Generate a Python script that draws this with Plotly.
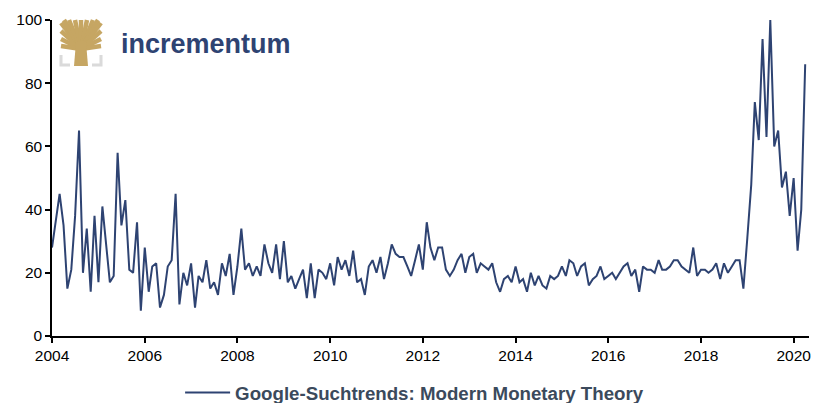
import pandas as pd
import plotly.graph_objects as go

# Monthly Google search interest, Jan 2004 - Apr 2020 (index, max = 100)
start_month = "2004-01-01"
interest = [
    28, 36, 45, 35, 15, 21, 38, 65, 20, 34, 14, 38,   # 2004
    17, 41, 29, 17, 19, 58, 35, 43, 21, 20, 36, 8,    # 2005
    28, 14, 22, 23, 9, 13, 22, 24, 45, 10, 20, 16,    # 2006
    23, 9, 19, 17, 24, 15, 17, 13, 23, 19, 26, 13,    # 2007
    22, 34, 21, 23, 19, 22, 19, 29, 23, 20, 29, 18,   # 2008
    30, 17, 19, 15, 18, 21, 12, 23, 12, 21, 20, 18,   # 2009
    23, 16, 25, 21, 24, 19, 27, 17, 18, 13, 22, 24,   # 2010
    20, 25, 18, 23, 29, 26, 25, 25, 22, 19, 24, 29,   # 2011
    21, 36, 28, 24, 28, 28, 21, 19, 21, 24, 26, 20,   # 2012
    25, 26, 20, 23, 22, 21, 23, 17, 14, 18, 19, 17,   # 2013
    22, 17, 18, 14, 20, 16, 19, 16, 15, 19, 18, 19,   # 2014
    22, 19, 24, 23, 19, 22, 23, 16, 18, 19, 22, 18,   # 2015
    19, 20, 18, 20, 22, 23, 19, 21, 14, 22, 21, 21,   # 2016
    20, 24, 21, 21, 22, 24, 24, 22, 21, 20, 28, 19,   # 2017
    21, 21, 20, 21, 23, 18, 23, 20, 22, 24, 24, 15,   # 2018
    31, 48, 74, 62, 94, 63, 100, 60, 65, 47, 52, 38,  # 2019
    50, 27, 40, 86,                                   # 2020
]
months = pd.date_range(start_month, periods=len(interest), freq="MS")

series_name = "Google-Suchtrends: Modern Monetary Theory"
year_ticks = [f"{y}-01-01" for y in range(2004, 2021, 2)]
year_labels = [str(y) for y in range(2004, 2021, 2)]
y_ticks = [0, 20, 40, 60, 80, 100]

NAVY = "#2E4372"
GOLD = "#C6A663"
GREY = "#DADADA"

W, H = 818, 403
ML, MR, MT, MB = 52, 9, 20, 67
PW, PH = W - ML - MR, H - MT - MB


def px(x):
    return (x - ML) / PW


def py(y):
    return (H - MB - y) / PH


fig = go.Figure()
fig.add_trace(go.Scatter(
    x=months, y=interest, mode="lines", name=f"<b>{series_name}</b>",
    line=dict(color=NAVY, width=2),
))

# logo: gold tree with grey corner brackets
shapes = []
trunk_top = (81, 49)
branch_tips = [(61, 23), (61, 31), (61, 39), (61, 46), (64, 20), (69, 20),
               (75, 20), (81, 20), (87, 20), (93, 20), (98, 20), (101, 23),
               (101, 31), (101, 39), (101, 46)]
for tx, ty in branch_tips:
    shapes.append(dict(type="line", xref="paper", yref="paper",
                       x0=px(trunk_top[0]), y0=py(trunk_top[1]),
                       x1=px(tx), y1=py(ty),
                       line=dict(color=GOLD, width=4.5), layer="above"))
shapes.append(dict(type="path", xref="paper", yref="paper",
                   path=(f"M {px(76)},{py(42)} L {px(86)},{py(42)} "
                         f"L {px(88)},{py(66)} L {px(74)},{py(66)} Z"),
                   fillcolor=GOLD, line=dict(width=0), layer="above"))
for pts in ([(61, 55), (61, 65), (70, 65)], [(101, 55), (101, 65), (92, 65)]):
    path = "M " + " L ".join(f"{px(a)},{py(b)}" for a, b in pts)
    shapes.append(dict(type="path", xref="paper", yref="paper", path=path,
                       line=dict(color=GREY, width=3), layer="above"))

fig.update_layout(
    width=W, height=H,
    margin=dict(l=ML, r=MR, t=MT, b=MB, autoexpand=False),
    paper_bgcolor="white", plot_bgcolor="white",
    font=dict(family="Arial, Liberation Sans, sans-serif", size=15.5, color="black"),
    showlegend=True,
    legend=dict(orientation="h", x=0.479, xanchor="center", y=-0.18, yanchor="middle",
                font=dict(size=18.7, color="#3B4A5C", family="Arial, Liberation Sans, sans-serif"),
                itemwidth=45, bgcolor="rgba(0,0,0,0)"),
    shapes=shapes,
    annotations=[dict(text="<b>incrementum</b>", xref="paper", yref="paper",
                      x=px(119), y=py(44), xanchor="left", yanchor="middle",
                      showarrow=False,
                      font=dict(size=27, color=NAVY,
                                family="Arial, Liberation Sans, sans-serif"))],
)
fig.update_xaxes(
    type="date", range=["2004-01-01", "2020-05-01"],
    tickvals=year_ticks, ticktext=year_labels,
    showgrid=False, zeroline=False,
    showline=True, linecolor="black", linewidth=1.5,
    ticks="outside", ticklen=5, tickcolor="black", tickwidth=1.5,
)
fig.update_yaxes(
    range=[0, 100], tickvals=y_ticks,
    showgrid=False, zeroline=False,
    showline=True, linecolor="black", linewidth=1.5,
    ticks="outside", ticklen=5, tickcolor="black", tickwidth=1.5,
)

fig.write_html("out.html")
